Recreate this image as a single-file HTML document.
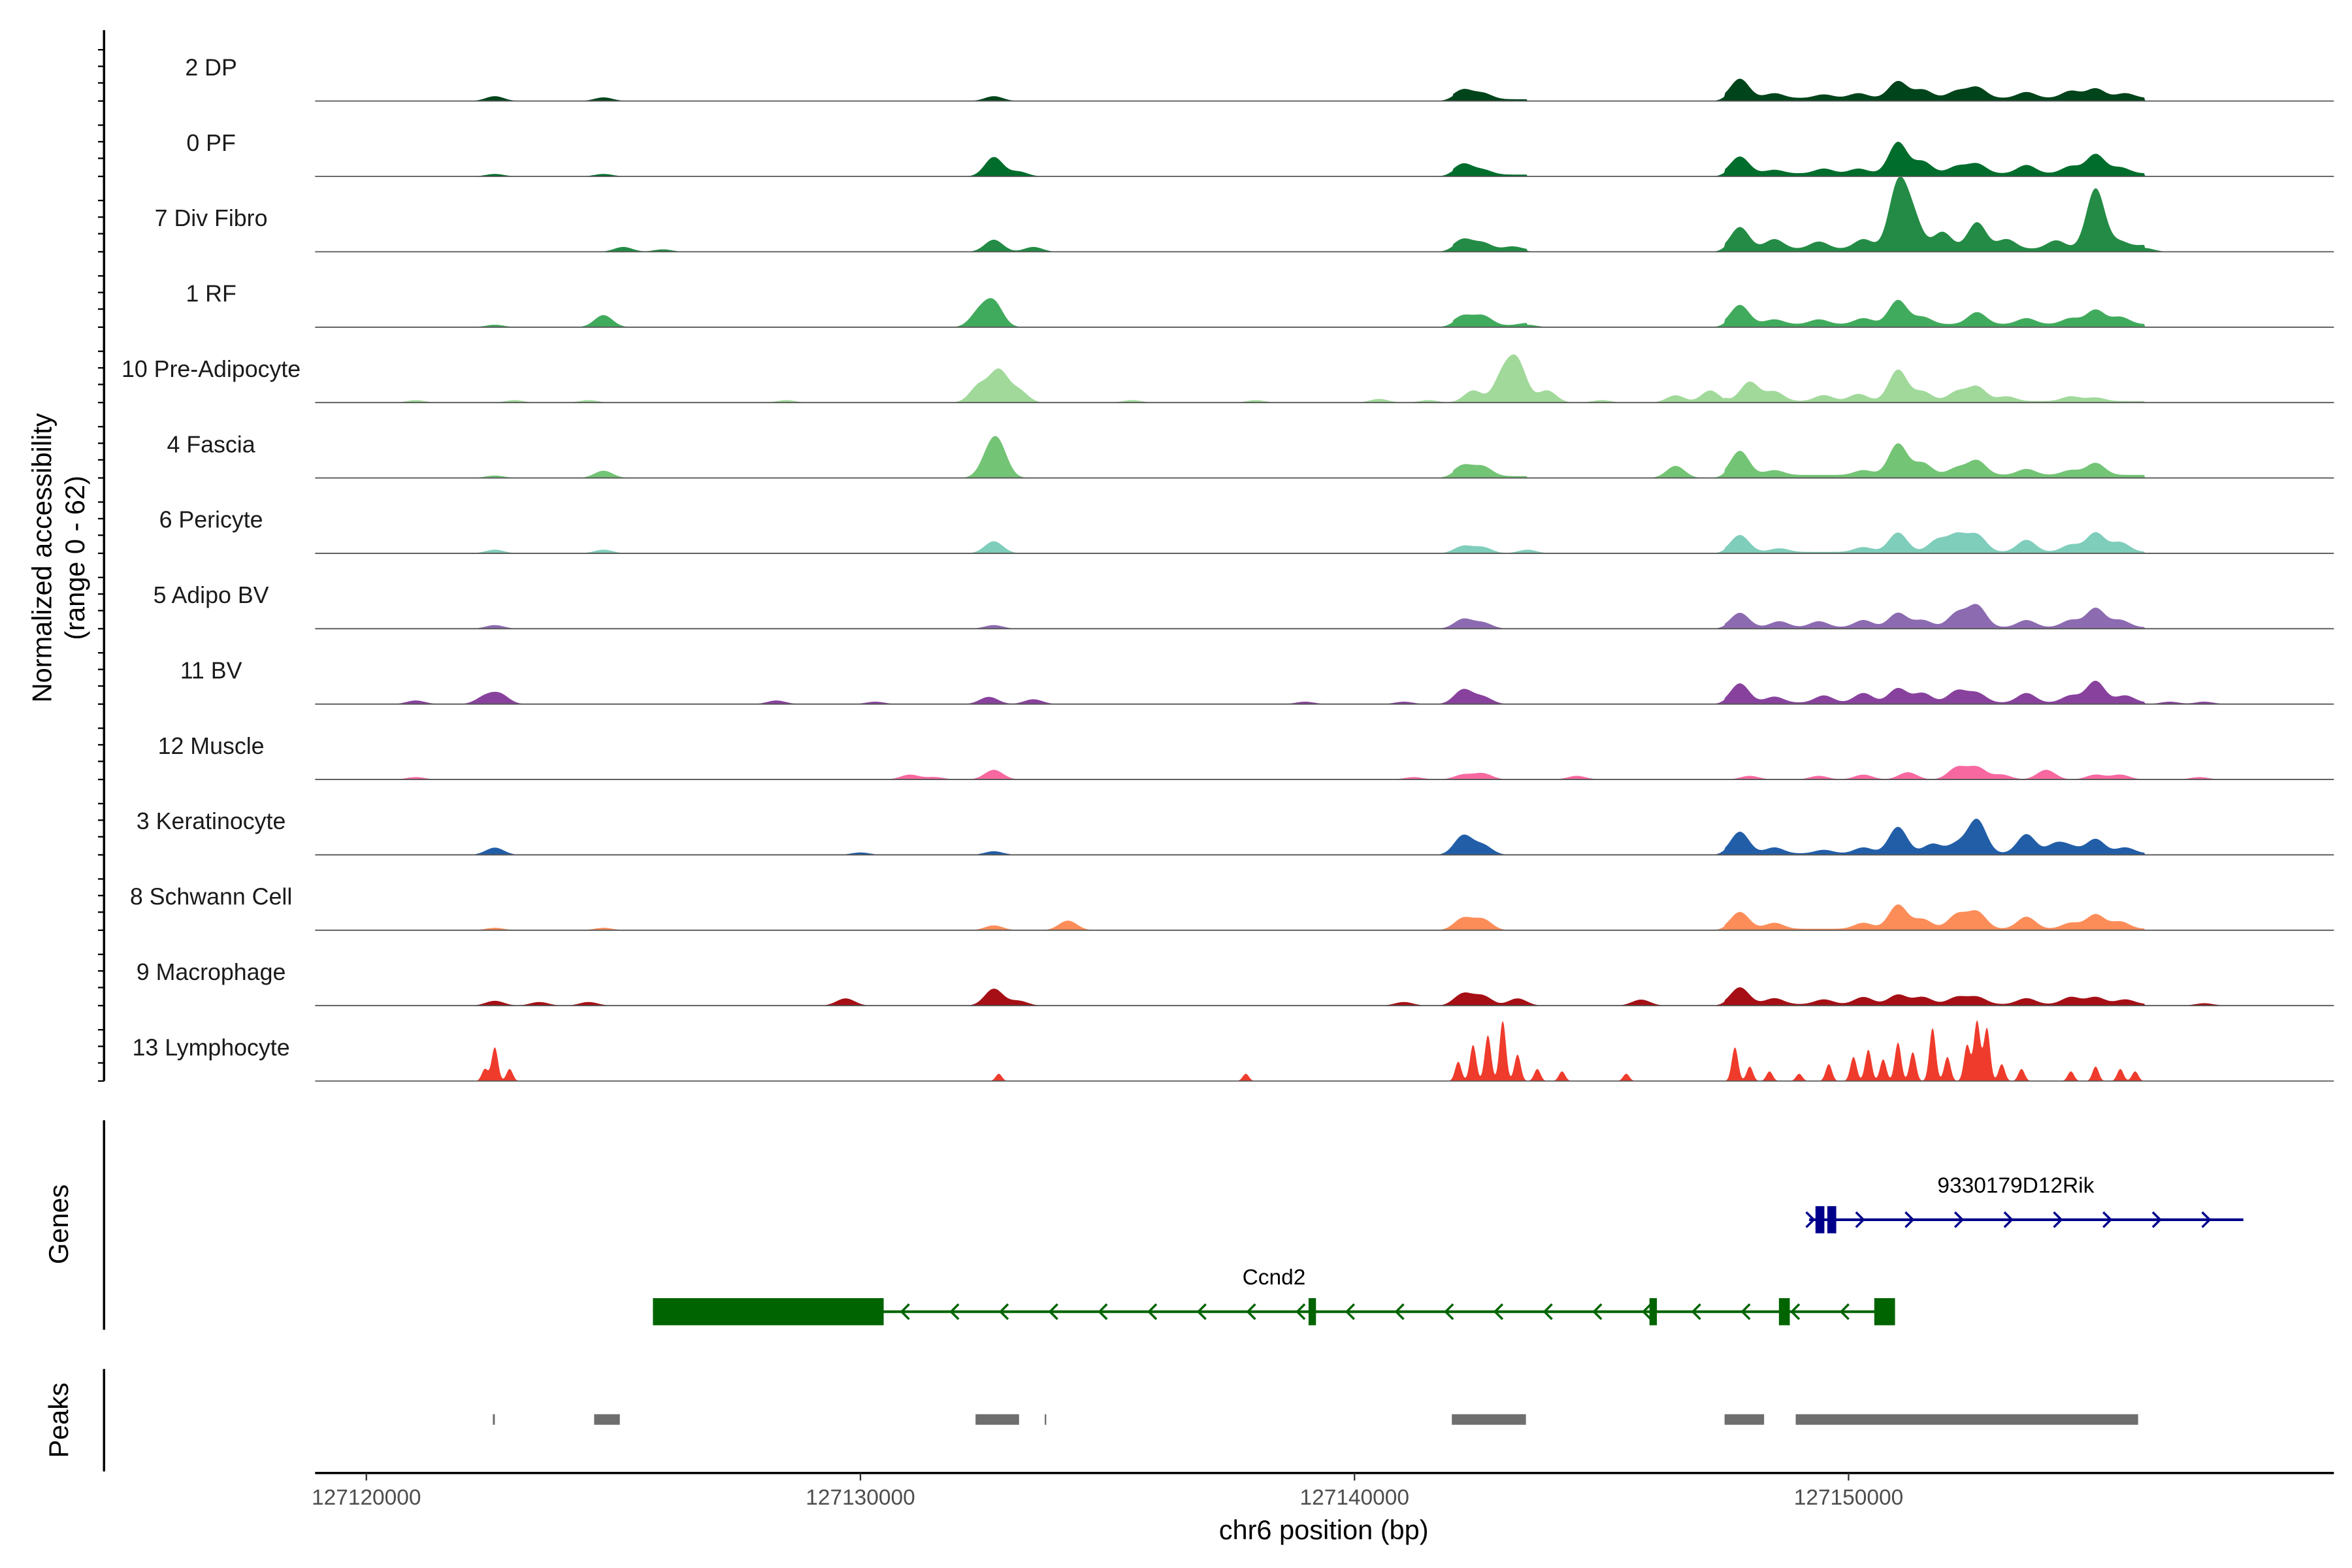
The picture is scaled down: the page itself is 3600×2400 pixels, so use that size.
<!DOCTYPE html>
<html><head><meta charset="utf-8"><style>
html,body{margin:0;padding:0;background:#fff;overflow:hidden}
svg{display:block}
text{font-family:"Liberation Sans",Arial,sans-serif}
</style></head><body>
<svg id="chart" xmlns="http://www.w3.org/2000/svg" width="3600" height="2400" viewBox="0 0 1560 1040">
<rect width="1560" height="1040" fill="#fff"/>
<g id="tracks"></g>
<g id="ytick"></g>
<line x1="69" y1="20" x2="69" y2="717" stroke="#000" stroke-width="1.5"/>
<text transform="translate(34,370) rotate(-90)" text-anchor="middle" font-size="18">Normalized accessibility</text>
<text transform="translate(56,370) rotate(-90)" text-anchor="middle" font-size="18">(range 0 - 62)</text>
<line x1="69" y1="743" x2="69" y2="882" stroke="#000" stroke-width="1.5"/>
<text transform="translate(45,812) rotate(-90)" text-anchor="middle" font-size="18">Genes</text>
<line x1="69" y1="908" x2="69" y2="976" stroke="#000" stroke-width="1.5"/>
<text transform="translate(45,942) rotate(-90)" text-anchor="middle" font-size="18">Peaks</text>
<g id="genes"></g>
<g id="peaks"></g>
<line x1="209" y1="977" x2="1548" y2="977" stroke="#000" stroke-width="1.5"/>
<g id="xticks"></g>
<text x="878" y="1021" text-anchor="middle" font-size="18">chr6 position (bp)</text>
</svg>
<script>
const NS="http://www.w3.org/2000/svg";
const trackNames=["2 DP","0 PF","7 Div Fibro","1 RF","10 Pre-Adipocyte","4 Fascia","6 Pericyte","5 Adipo BV","11 BV","12 Muscle","3 Keratinocyte","8 Schwann Cell","9 Macrophage","13 Lymphocyte"];
const trackColors=["#00441b","#006d2c","#238b45","#41ab5d","#a1d99b","#74c476","#7fcdbb","#8c6bb1","#88419d","#f768a1","#225ea8","#fc8d59","#a50f15","#ef3b2c"];
// peaks: [position (kb offset from chr6:127,100,000), accessibility]
const peaksDP=[[22.6,4],[24.8,3],[32.7,4],[42.2,8],[42.6,5],[47.8,16],[48.5,4],[49.5,3],[50.2,4],[51.0,14],[51.5,7],[52.2,6],[52.6,9],[53.6,5],[54.5,6],[55.0,8],[55.6,4]];
const peaksPF=[[22.6,2],[24.8,2],[32.7,16],[33.2,4],[42.2,9],[42.6,4],[47.8,14],[48.5,3],[49.5,4],[50.2,4],[51.0,26],[51.5,10],[52.2,6],[52.6,8],[53.6,7],[54.5,6],[55.0,16],[55.5,5]];
const peaksDiv=[[25.2,4],[26,2],[32.7,10],[33.5,4],[42.2,9],[42.6,6],[43.2,3],[47.8,18],[48.5,8],[49.4,6],[50.3,8],[51.0,52],[51.3,25],[51.9,14],[52.6,22],[53.2,8],[54.2,7],[55.0,50],[55.5,6],[56.0,3]];
const peaksRF=[[22.6,2],[24.8,10],[32.4,12],[32.7,20],[42.2,8],[42.6,8],[43.5,2],[47.8,16],[48.5,4],[49.4,4],[50.3,5],[51.0,20],[51.5,6],[52.6,10],[53.6,5],[54.5,5],[55.0,12],[55.5,6]];
const peaksPre=[[21,2],[23,2],[24.5,2],[28.5,2],[32.4,14],[32.8,26],[33.2,10],[35.5,2],[38,2],[40.5,3],[41.5,2],[42.4,10],[43,22],[43.3,32],[43.9,10],[45,2],[46.5,6],[47.2,10],[48,16],[48.5,8],[49.5,5],[50.2,6],[51.0,26],[51.5,8],[52.2,8],[52.6,12],[53.2,4],[54.5,4],[55,3]];
const peaksFas=[[22.6,2],[24.8,6],[32.6,16],[32.8,24],[42.2,9],[42.6,8],[46.5,10],[47.8,20],[48.5,4],[50.3,4],[51.0,26],[51.5,10],[52.2,6],[52.6,12],[53.6,5],[54.5,4],[55.0,10]];
const peaksPer=[[22.6,3],[24.8,3],[32.7,10],[42.2,6],[42.6,5],[43.5,3],[47.8,14],[48.6,3],[50.3,4],[51.0,16],[51.8,10],[52.2,14],[52.6,14],[53.6,10],[54.5,6],[55.0,16],[55.5,8]];
const peaksABV=[[22.6,3],[32.7,3],[42.2,8],[42.6,5],[47.8,12],[48.6,5],[49.4,5],[50.3,6],[51.0,12],[51.5,6],[52.2,12],[52.6,18],[53.6,6],[54.5,6],[55.0,16],[55.5,6]];
const peaksBV=[[21,3],[22.4,6],[22.7,8],[28.3,3],[30.3,2],[32.6,6],[33.5,4],[39,2],[41,2],[42.2,12],[42.6,6],[47.8,16],[48.5,5],[49.5,6],[50.3,8],[51.0,12],[51.5,8],[52.2,10],[52.6,8],[53.6,8],[54.5,6],[55.0,18],[55.6,6],[56.5,2],[57.2,2]];
const peaksMus=[[21,2],[31,4],[31.5,2],[32.7,8],[41.2,2],[42.2,4],[42.6,5],[44.5,3],[48,3],[49.4,3],[50.3,4],[51.2,6],[52.2,10],[52.6,10],[53.1,4],[54,8],[55,4],[55.5,4],[57.1,2]];
const peaksKer=[[22.6,6],[30,2],[32.7,3],[42.2,16],[42.6,8],[47.8,18],[48.5,5],[49.5,3],[50.3,5],[51.0,22],[51.7,8],[52.2,8],[52.6,28],[53.6,16],[54.2,8],[54.5,5],[55.0,12],[55.6,5]];
const peaksSch=[[22.6,2],[24.8,2],[32.7,4],[34.2,8],[42.2,10],[42.6,9],[47.8,14],[48.5,5],[50.3,5],[51.0,20],[51.5,8],[52.2,12],[52.6,14],[53.6,10],[54.5,5],[55.0,12],[55.5,6]];
const peaksMac=[[22.6,4],[23.5,3],[24.5,3],[29.7,6],[32.7,14],[33.2,4],[41,3],[42.2,10],[42.6,8],[43.3,6],[45.8,5],[47.8,14],[48.5,5],[49.5,4],[50.3,6],[51.0,8],[51.5,6],[52.2,6],[52.6,6],[53.6,5],[54.5,6],[55.0,6],[55.6,4],[57.2,2]];
const peaksLym=[[22.4,10],[22.6,28],[22.9,10],[32.8,6],[37.8,6],[42.1,16],[42.4,30],[42.7,38],[43.0,50],[43.3,22],[43.7,10],[44.2,8],[45.5,6],[47.7,28],[48.0,12],[48.4,8],[49.0,6],[49.6,14],[50.1,20],[50.4,26],[50.7,18],[51.0,32],[51.3,24],[51.7,44],[52.0,20],[52.4,30],[52.6,50],[52.8,44],[53.1,14],[53.5,10],[54.5,8],[55.0,12],[55.5,10],[55.8,8]];
const trackPeaks=[peaksDP,peaksPF,peaksDiv,peaksRF,peaksPre,peaksFas,peaksPer,peaksABV,peaksBV,peaksMus,peaksKer,peaksSch,peaksMac,peaksLym];
// low background accessibility per track: [start kb, end kb, level]
const bgFibro=[[42.0,43.5,1.5],[47.5,56.0,2.5]];
const bgLow=[[47.5,56.0,1.2]];
const trackBg=[bgFibro,bgFibro,bgFibro,bgFibro,bgLow,bgFibro,bgLow,bgLow,bgLow,[],bgLow,bgLow,bgLow,[]];
const xTicks=[20,30,40,50];
const xTickLabels=["127120000","127130000","127140000","127150000"];
const ccnd2Line=[25.80,50.94];
const ccnd2Exons=[[25.80,30.47],[39.07,39.22],[45.97,46.12],[48.59,48.81],[50.52,50.94]];
const rikLine=[49.20,57.99];
const rikExons=[[49.33,49.51],[49.57,49.75]];
const peakRegions=[[22.56,22.60],[24.61,25.13],[32.33,33.21],[33.73,33.76],[41.97,43.47],[47.49,48.29],[48.93,55.86]];

const X0=209,X1=1548;
function xs(kb){return 243+(kb-20)*32.77;}
const kbMin=(X0-243)/32.77+20, kbMax=(X1-243)/32.77+20;
function ys(v,base){return base-Math.min(v,62)*0.8;}
function mk(tag,attrs,parent){const e=document.createElementNS(NS,tag);for(const k in attrs)e.setAttribute(k,attrs[k]);parent.appendChild(e);return e;}

const tg=document.getElementById('tracks');
const ytg=document.getElementById('ytick');
trackNames.forEach((name,i)=>{
  const base=67+i*50;
  const g=mk('g',{},tg);
  
  
  const pk=trackPeaks[i];
  const w=(i===13)?0.09:0.26;
  let d='M'+X0+','+base;
  for(let kb=kbMin;kb<=kbMax;kb+=0.02){
    let v=0;
    for(const p of pk){const t=(kb-p[0])/w;if(Math.abs(t)<4){v+=p[1]*Math.exp(-t*t);}}
    for(const b of trackBg[i]){if(kb>=b[0]&&kb<=b[1])v+=b[2];}
    d+=' L'+xs(kb).toFixed(2)+','+ys(v,base).toFixed(2);
  }
  d+=' L'+X1+','+base+' Z';
  const area=mk('path',{d:d,fill:trackColors[i]},g);
  
  
  const bl=mk('line',{x1:X0,y1:base,x2:X1,y2:base,stroke:'#555','stroke-width':0.8},g);
  
  
  const lb=mk('text',{x:140,y:base-17,'text-anchor':'middle','font-size':15.5,fill:'#1a1a1a'},g);
  lb.textContent=name;
  
  
  [0,12,23,34].forEach(o=>{
    const t=mk('line',{x1:65,x2:69,y1:base-o,y2:base-o,stroke:'#000','stroke-width':1},ytg);
    
    
  });
});

const gg=document.getElementById('genes');
function chevrons(y,from,to,dir,color,parent){
  for(let x=from;x<=to;x+=32.8){
    const dx=dir<0?5:-5;
    const c=mk('polyline',{points:(x+dx)+','+(y-5)+' '+x+','+y+' '+(x+dx)+','+(y+5),fill:'none',stroke:color,'stroke-width':1.5},parent);
    
    
  }
}
const cg=mk('g',{},gg);


const cl=mk('line',{x1:xs(ccnd2Line[0]),x2:xs(ccnd2Line[1]),y1:870,y2:870,stroke:'#006400','stroke-width':1.8},cg);


chevrons(870,598,1225,-1,'#006400',cg);
ccnd2Exons.forEach(e=>{
  const r=mk('rect',{x:xs(e[0]),y:861,width:xs(e[1])-xs(e[0]),height:18,fill:'#006400'},cg);
  
  
});
const ct=mk('text',{x:845,y:852,'text-anchor':'middle','font-size':14.5},cg);
ct.textContent='Ccnd2';



const rg=mk('g',{},gg);


const rl=mk('line',{x1:xs(rikLine[0]),x2:xs(rikLine[1]),y1:809,y2:809,stroke:'#00008b','stroke-width':1.8},rg);


chevrons(809,1203,1203,1,'#00008b',rg);
chevrons(809,1236,1488,1,'#00008b',rg);
rikExons.forEach(e=>{
  const r=mk('rect',{x:xs(e[0]),y:800,width:xs(e[1])-xs(e[0]),height:18,fill:'#00008b'},rg);
  
  
});
const rt=mk('text',{x:1337,y:791,'text-anchor':'middle','font-size':14.5},rg);
rt.textContent='9330179D12Rik';



const pg=document.getElementById('peaks');
peakRegions.forEach(p=>{
  const r=mk('rect',{x:xs(p[0]),y:938,width:Math.max(1,xs(p[1])-xs(p[0])),height:7,fill:'#6e6e6e'},pg);
  
  
});

const xg=document.getElementById('xticks');
xTicks.forEach((t,i)=>{
  const l=mk('line',{x1:xs(t),x2:xs(t),y1:977,y2:982,stroke:'#333','stroke-width':1},xg);
  
  
  const tx=mk('text',{x:xs(t),y:998,'text-anchor':'middle','font-size':14.5,fill:'#4d4d4d'},xg);
  tx.textContent=xTickLabels[i];
  
  
});
</script>
</body></html>
